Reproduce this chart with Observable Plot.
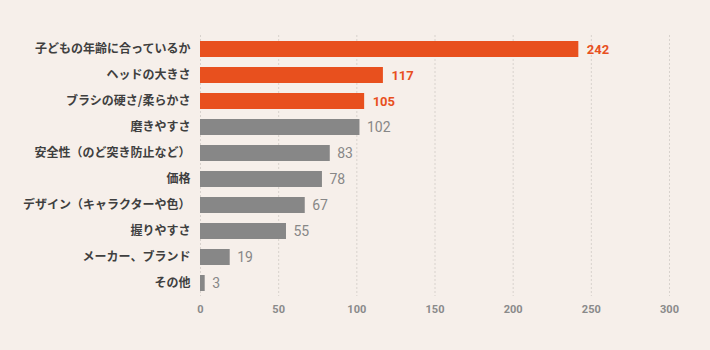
<!DOCTYPE html>
<html><head><meta charset="utf-8">
<script src="https://cdn.jsdelivr.net/npm/d3@7"></script>
<script src="https://cdn.jsdelivr.net/npm/@observablehq/plot@0.6"></script>
<style>
html,body{margin:0;padding:0;background:#f6efea;}
#chart svg{display:block;}
</style></head><body><div id="chart"></div>
<script>
const categories = ["子どもの年齢に合っているか","ヘッドの大きさ","ブラシの硬さ/柔らかさ","磨きやすさ","安全性（のど突き防止など）","価格","デザイン（キャラクターや色）","握りやすさ","メーカー、ブランド","その他"];
const values = [242,117,105,102,83,78,67,55,19,3];
const highlighted = [true,true,true,false,false,false,false,false,false,false];
const xTicks = [0,50,100,150,200,250,300];
const data = categories.map((c,i)=>({category:c,value:values[i],hi:highlighted[i]}));
const orange = "#e8501e", gray = "#878787";
const chart = Plot.plot({
  width:710, height:350,
  marginLeft:200, marginRight:41, marginTop:35, marginBottom:54,
  style:{background:"#f6efea", fontFamily:"'Noto Sans CJK JP', sans-serif"},
  x:{domain:[0,300], ticks:xTicks, label:null},
  y:{domain:categories, label:null, paddingInner:0.4, paddingOuter:0.2},
  marks:[
    Plot.ruleX(xTicks,{stroke:"#d8d2cd", strokeDasharray:"2,2", strokeWidth:1}),
    Plot.barX(data,{y:"category", x:"value", fill:d=>d.hi?orange:gray}),
    Plot.text(data.filter(d=>d.hi),{y:"category", x:"value", text:d=>String(d.value), textAnchor:"start", dx:8, fill:orange, fontSize:13, fontWeight:"bold", fontFamily:"Roboto, sans-serif"}),
    Plot.text(data.filter(d=>!d.hi),{y:"category", x:"value", text:d=>String(d.value), textAnchor:"start", dx:7, fill:gray, fontSize:14, fontWeight:"normal", fontFamily:"Roboto, sans-serif"}),
    Plot.axisY({tickSize:0, tickPadding:10, fontSize:12, fontWeight:"bold", fill:"#3f3f3f", style:{letterSpacing:"0.3px"}}),
    Plot.axisX({ticks:xTicks, tickSize:0, tickPadding:9, fontSize:11, fontWeight:"bold", fill:"#8a8a8a", fontFamily:"Roboto, sans-serif"})
  ]
});
document.getElementById("chart").appendChild(chart);
</script></body></html>
